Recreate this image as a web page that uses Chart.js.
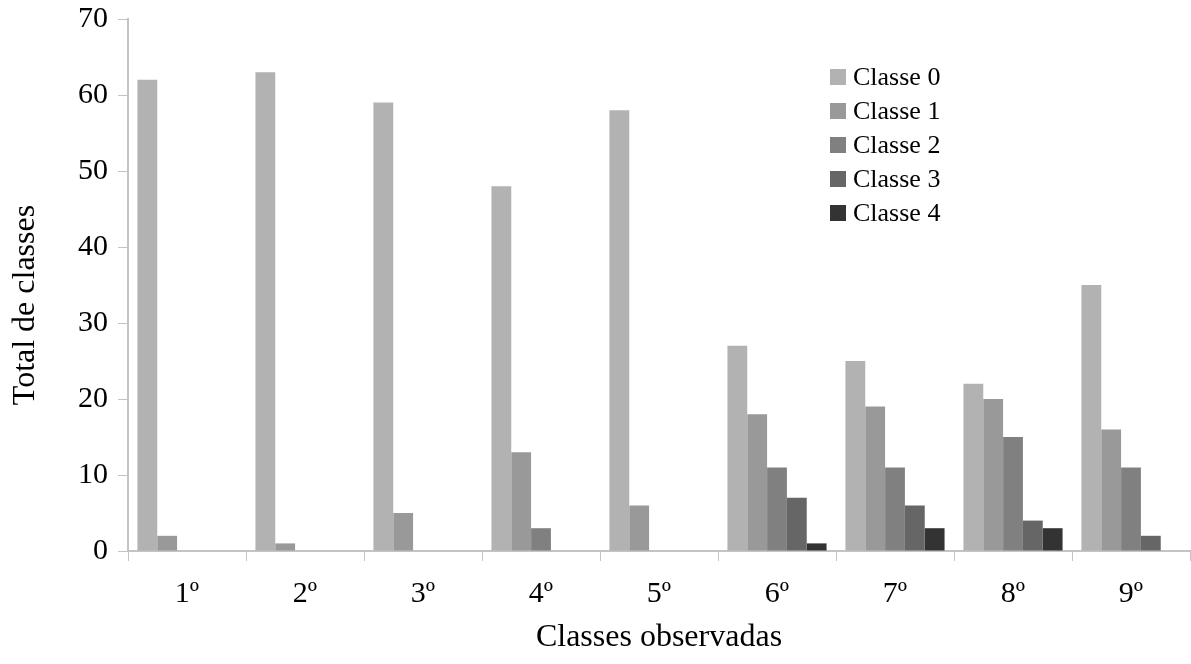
<!DOCTYPE html>
<html>
<head>
<meta charset="utf-8">
<script src="https://cdn.jsdelivr.net/npm/chart.js@4"></script>
<style>
  html, body { margin: 0; padding: 0; background: #fff; }
  #wrap { width: 1191px; height: 664px; }
</style>
</head>
<body>
<div id="wrap"><canvas id="chart" width="1191" height="664"></canvas></div>
<script>
// categories and series
const categorias = ['1º', '2º', '3º', '4º', '5º', '6º', '7º', '8º', '9º'];
const classe0 = [62, 63, 59, 48, 58, 27, 25, 22, 35];
const classe1 = [2, 1, 5, 13, 6, 18, 19, 20, 16];
const classe2 = [0, 0, 0, 3, 0, 11, 11, 15, 11];
const classe3 = [0, 0, 0, 0, 0, 7, 6, 4, 2];
const classe4 = [0, 0, 0, 0, 0, 1, 3, 3, 0];
const nomes = ['Classe 0', 'Classe 1', 'Classe 2', 'Classe 3', 'Classe 4'];
const cores = ['#b2b2b2', '#999999', '#808080', '#666666', '#333333'];

const FONT = "'Liberation Serif', 'Times New Roman', serif";
const AXIS = '#c4c4c4';

// legend drawn inside the plot area, like the original
const innerLegend = {
  id: 'innerLegend',
  afterDraw(chart) {
    const ctx = chart.ctx;
    ctx.save();
    ctx.font = Chart.helpers.toFont({ family: FONT, size: 26 }).string;
    ctx.textBaseline = 'middle';
    ctx.textAlign = 'left';
    chart.data.datasets.forEach((ds, i) => {
      const y = 77 + i * 34;
      ctx.fillStyle = ds.backgroundColor;
      ctx.fillRect(830, y - 8, 16, 16);
      ctx.fillStyle = '#000';
      ctx.fillText(ds.label, 853, y + 1);
    });
    ctx.restore();
  }
};

const series = [classe0, classe1, classe2, classe3, classe4];

function draw() {
  new Chart(document.getElementById('chart'), {
    type: 'bar',
    data: {
      labels: categorias,
      datasets: series.map((d, i) => ({
        label: nomes[i],
        data: d,
        backgroundColor: cores[i],
        borderWidth: 0,
        categoryPercentage: 0.84,
        barPercentage: 1.0
      }))
    },
    options: {
      responsive: false,
      animation: false,
      devicePixelRatio: 1,
      layout: { padding: { top: 19, right: 1, bottom: 0, left: 0 } },
      plugins: {
        legend: { display: false },
        tooltip: { enabled: false }
      },
      scales: {
        x: {
          afterFit(scale) { scale.height = 113; },
          border: { color: AXIS, width: 2 },
          grid: { drawOnChartArea: false, drawTicks: true, tickLength: 10, color: AXIS, offset: true },
          ticks: { color: '#000', font: { family: FONT, size: 30 }, padding: 15 },
          title: {
            display: true,
            text: 'Classes observadas',
            color: '#000',
            font: { family: FONT, size: 32 },
            padding: { top: 0, bottom: 7 }
          }
        },
        y: {
          min: 0,
          max: 70,
          afterFit(scale) {
            scale.width = 128;
            scale.paddingTop = 0;
            scale.paddingBottom = 0;
          },
          border: { color: AXIS, width: 2 },
          grid: { drawOnChartArea: false, drawTicks: true, tickLength: 10, color: AXIS },
          ticks: { stepSize: 10, color: '#000', font: { family: FONT, size: 30 }, padding: 10 },
          title: {
            display: true,
            // trailing no-break spaces nudge the title a bit lower, as in the original
            text: 'Total de classes\u00A0\u00A0\u00A0\u00A0\u00A0',
            color: '#000',
            font: { family: FONT, size: 32 },
            padding: { top: 6, bottom: 0 }
          }
        }
      }
    },
    plugins: [innerLegend]
  });
}

// make sure the serif face is ready before the canvas uses it
Promise.all([
  document.fonts.load("26px 'Liberation Serif'"),
  document.fonts.load("30px 'Liberation Serif'")
]).then(draw, draw);
</script>
</body>
</html>
